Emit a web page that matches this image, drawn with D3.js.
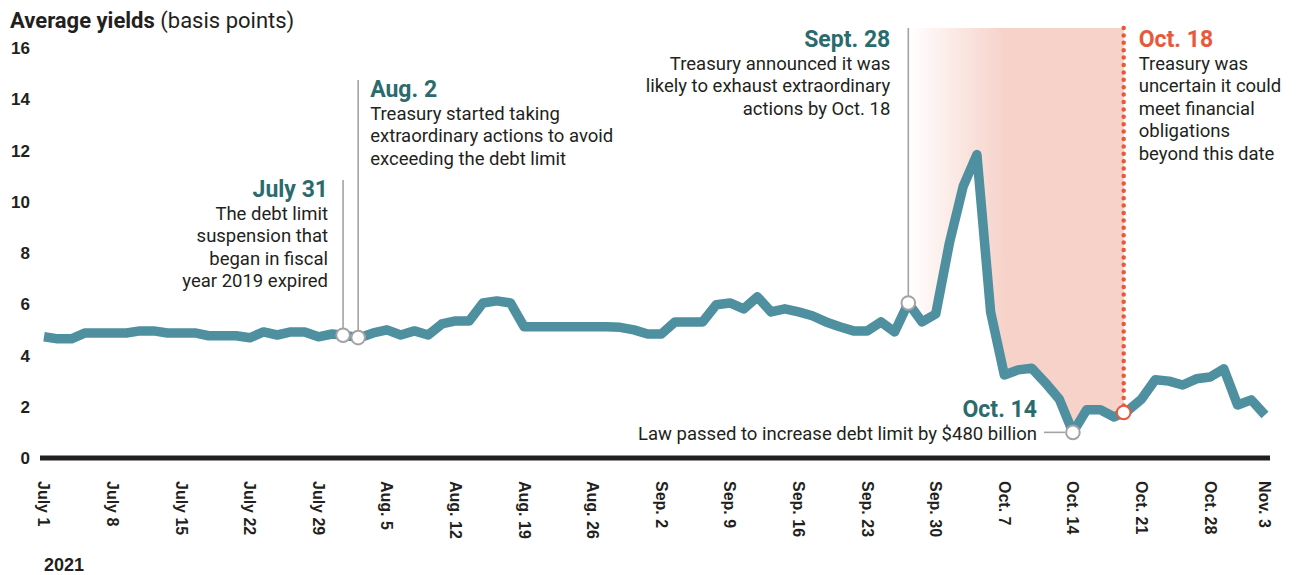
<!DOCTYPE html>
<html>
<head>
<meta charset="utf-8">
<script src="https://cdn.jsdelivr.net/npm/d3@7"></script>
<style>
  body { margin: 0; background: #fff; }
  text { fill: #231f20; }
  .tick-y, .tick-x, .year { font-family: "Liberation Sans", Arial, sans-serif; font-weight: bold; }
  .note, .title { font-family: Roboto, "Open Sans", sans-serif; }
</style>
</head>
<body>
<div id="canvas"></div>
<script>
// weekday dates July 1 -> Nov 3 2021, one value per trading day
var startDate = new Date(2021, 6, 1),
    endDate = new Date(2021, 10, 3);

// average yields, basis points
var yields = [
  4.73, 4.65, 4.65, 4.88, 4.88, 4.88, 4.88, 4.96, 4.96, 4.88,
  4.88, 4.88, 4.77, 4.77, 4.77, 4.69, 4.92, 4.80, 4.92, 4.92,
  4.73, 4.84, 4.78, 4.69, 4.88, 5.00, 4.80, 4.96, 4.80, 5.23,
  5.35, 5.35, 6.05, 6.13, 6.05, 5.12, 5.12, 5.12, 5.12, 5.12,
  5.12, 5.12, 5.10, 5.00, 4.84, 4.84, 5.31, 5.31, 5.31, 5.98,
  6.05, 5.82, 6.29, 5.70, 5.82, 5.70, 5.55, 5.31, 5.12, 4.96,
  4.96, 5.31, 4.92, 6.05, 5.31, 5.62, 8.40, 10.6, 11.84, 5.70,
  3.24, 3.44, 3.50, 2.93, 2.30, 1.00, 1.88, 1.88, 1.60, 1.85,
  2.30, 3.05, 3.00, 2.85, 3.09, 3.16, 3.48, 2.07, 2.27, 1.68
];

var yTicks = [0, 2, 4, 6, 8, 10, 12, 14, 16];

// weekly tick labels (Thursdays) plus the last day
var tickDates = ["2021-07-01", "2021-07-08", "2021-07-15", "2021-07-22", "2021-07-29",
  "2021-08-05", "2021-08-12", "2021-08-19", "2021-08-26", "2021-09-02", "2021-09-09",
  "2021-09-16", "2021-09-23", "2021-09-30", "2021-10-07", "2021-10-14", "2021-10-21",
  "2021-10-28", "2021-11-03"];
var tickLabels = ["July 1", "July 8", "July 15", "July 22", "July 29", "Aug. 5", "Aug. 12",
  "Aug. 19", "Aug. 26", "Sep. 2", "Sep. 9", "Sep. 16", "Sep. 23", "Sep. 30", "Oct. 7",
  "Oct. 14", "Oct. 21", "Oct. 28", "Nov. 3"];

// events: "day" is the position on the trading-day axis where the chart marks it
var eventNames = ["July 31", "Aug. 2", "Sept. 28", "Oct. 14", "Oct. 18"];
var eventDays = [21.8, 22.9, 63, 75, 78.7];
var eventLines = [
  ["The debt limit", "suspension that", "began in fiscal", "year 2019 expired"],
  ["Treasury started taking", "extraordinary actions to avoid", "exceeding the debt limit"],
  ["Treasury announced it was", "likely to exhaust extraordinary", "actions by Oct. 18"],
  ["Law passed to increase debt limit by $480 billion"],
  ["Treasury was", "uncertain it could", "meet financial", "obligations", "beyond this date"]
];

var W = 1301, H = 575;
var teal = "#4e8fa0", dark = "#2b6b6d", red = "#e8593b", grey = "#a3a3a3";

var days = d3.timeDays(startDate, d3.timeDay.offset(endDate, 1))
  .filter(function(d) { return d.getDay() !== 0 && d.getDay() !== 6; });
var data = days.map(function(d, i) { return {date: d, i: i, v: yields[i]}; });
function indexOf(dateStr) {
  var t = d3.timeParse("%Y-%m-%d")(dateStr).getTime();
  return days.findIndex(function(d) { return d.getTime() === t; });
}

var x = d3.scaleLinear().domain([0, days.length - 1]).range([44, 1265]);
var y = d3.scaleLinear().domain([0, 16]).range([458, 48]);

// value on the line at a fractional position
function valueAt(p) {
  var i0 = Math.floor(p), i1 = Math.min(i0 + 1, yields.length - 1);
  return yields[i0] + (yields[i1] - yields[i0]) * (p - i0);
}

var svg = d3.select("#canvas").append("svg")
    .attr("width", W)
    .attr("height", H);

var defs = svg.append("defs");
var grad = defs.append("linearGradient")
    .attr("id", "shade")
    .attr("gradientUnits", "userSpaceOnUse")
    .attr("x1", x(eventDays[2])).attr("x2", x(eventDays[4]))
    .attr("y1", 0).attr("y2", 0);
grad.append("stop").attr("offset", "0%").attr("stop-color", "#f6d2c9").attr("stop-opacity", 0);
grad.append("stop").attr("offset", "45%").attr("stop-color", "#f6d2c9").attr("stop-opacity", 1);
grad.append("stop").attr("offset", "100%").attr("stop-color", "#f6d2c9").attr("stop-opacity", 1);

// ****************** title and axes ******************
var title = svg.append("text")
    .attr("class", "title")
    .attr("x", 10)
    .attr("y", 28)
    .style("font-size", "22px");
title.append("tspan").style("font-weight", "bold").text("Average yields");
title.append("tspan").text(" (basis points)");

svg.selectAll("text.tick-y")
    .data(yTicks)
  .enter().append("text")
    .attr("class", "tick-y")
    .attr("x", 30)
    .attr("y", function(d) { return y(d); })
    .attr("dy", "0.36em")
    .attr("text-anchor", "end")
    .style("font-size", "17px")
    .text(function(d) { return d; });

svg.selectAll("text.tick-x")
    .data(tickDates)
  .enter().append("text")
    .attr("class", "tick-x")
    .attr("transform", function(d) { return "translate(" + x(indexOf(d)) + ",481) rotate(90)"; })
    .attr("dy", "0.35em")
    .style("font-size", "16px")
    .text(function(d, i) { return tickLabels[i]; });

svg.append("text")
    .attr("class", "year")
    .attr("x", 44)
    .attr("y", 571)
    .style("font-size", "18px")
    .text(startDate.getFullYear());

// ****************** shaded window Sep 28 -> Oct 18 ******************
var p0 = eventDays[2], p1 = eventDays[4];
var shadePts = [{p: p0, v: valueAt(p0)}];
data.forEach(function(d) { if (d.i > p0 && d.i < p1) shadePts.push({p: d.i, v: d.v}); });
shadePts.push({p: p1, v: valueAt(p1)});

svg.append("path")
    .datum(shadePts)
    .attr("fill", "url(#shade)")
    .attr("d", d3.area()
      .x(function(d) { return x(d.p); })
      .y0(28)
      .y1(function(d) { return y(d.v); }));

// zero line
svg.append("line")
    .attr("x1", 40).attr("x2", 1270)
    .attr("y1", y(0)).attr("y2", y(0))
    .attr("stroke", "#231f20")
    .attr("stroke-width", 5);

// ****************** event leader lines ******************
var lineTops = [180, 80, 28, 0, 28];
eventDays.forEach(function(p, k) {
  if (k === 3) return;
  svg.append("line")
      .attr("x1", x(p)).attr("x2", x(p))
      .attr("y1", lineTops[k]).attr("y2", y(valueAt(p)))
      .attr("stroke", k === 4 ? red : grey)
      .attr("stroke-width", k === 4 ? 4.5 : 1.6)
      .attr("stroke-linecap", k === 4 ? "round" : "butt")
      .attr("stroke-dasharray", k === 4 ? "0,7.4" : null);
});

// ****************** the yield line ******************
svg.append("path")
    .datum(data)
    .attr("fill", "none")
    .attr("stroke", teal)
    .attr("stroke-width", 9.5)
    .attr("stroke-linejoin", "round")
    .attr("d", d3.line()
      .x(function(d) { return x(d.i); })
      .y(function(d) { return y(d.v); }));

// Oct 14 connector
var px14 = x(eventDays[3]), py14 = y(valueAt(eventDays[3]));
svg.append("line")
    .attr("x1", px14 - 29).attr("x2", px14 - 8)
    .attr("y1", py14).attr("y2", py14)
    .attr("stroke", grey)
    .attr("stroke-width", 1.6);

// markers
svg.selectAll("circle.ev")
    .data(eventDays)
  .enter().append("circle")
    .attr("class", "ev")
    .attr("cx", function(d) { return x(d); })
    .attr("cy", function(d) { return y(valueAt(d)); })
    .attr("r", 6.8)
    .attr("fill", "#fff")
    .attr("stroke", function(d, i) { return i === 4 ? red : grey; })
    .attr("stroke-width", 2);

// ****************** annotation text ******************
// [dx from marker, title baseline, anchor]
var notePos = [[-15, 197, "end"], [12, 97, "start"], [-18, 47, "end"], [-36, 417, "end"], [15, 47, "start"]];
eventNames.forEach(function(name, k) {
  var px = x(eventDays[k]) + notePos[k][0],
      ty = notePos[k][1],
      anchor = notePos[k][2];
  svg.append("text")
      .attr("class", "title")
      .attr("x", px).attr("y", ty)
      .attr("text-anchor", anchor)
      .style("font-size", "23px")
      .style("font-weight", "bold")
      .style("fill", k === 4 ? red : dark)
      .text(name);
  eventLines[k].forEach(function(line, j) {
    svg.append("text")
        .attr("class", "note")
        .attr("x", px).attr("y", ty + 22.5 * (j + 1))
        .attr("text-anchor", anchor)
        .style("font-size", "18.5px")
        .text(line);
  });
});
</script>
</body>
</html>
